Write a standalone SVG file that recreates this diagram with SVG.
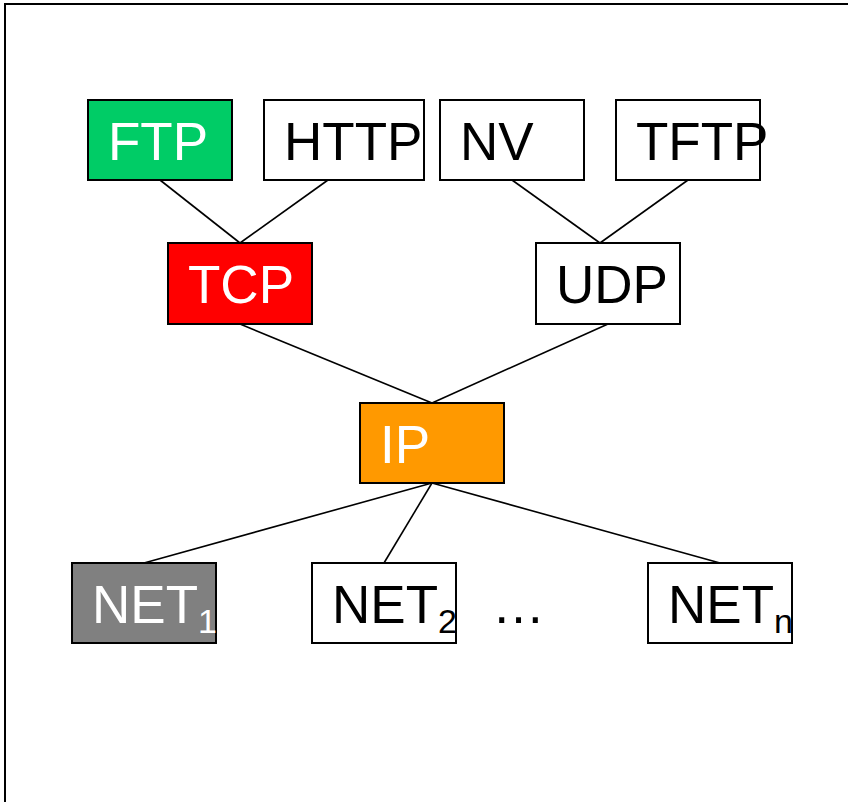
<svg xmlns="http://www.w3.org/2000/svg" width="848" height="802" viewBox="0 0 848 802">
<style>
.box{stroke:#000;stroke-width:2}
.t{font-family:"Liberation Sans",Arial,sans-serif;font-size:53px}
.w{fill:#fff}
.k{fill:#000}
.sub{font-size:34px}
#connectors line{stroke:#000;stroke-width:1.6}
</style>
<rect x="5" y="4" width="860" height="820" fill="#fff" stroke="#000" stroke-width="2"/>
<g id="connectors">
<line x1="160" y1="180" x2="240" y2="243"/>
<line x1="328" y1="180" x2="240" y2="243"/>
<line x1="512" y1="180" x2="600" y2="243"/>
<line x1="688" y1="180" x2="600" y2="243"/>
<line x1="240" y1="324" x2="432" y2="403"/>
<line x1="608" y1="324" x2="432" y2="403"/>
<line x1="432" y1="483" x2="144" y2="563"/>
<line x1="432" y1="483" x2="384" y2="563"/>
<line x1="432" y1="483" x2="720" y2="563"/>
</g>
<g id="ftp"><rect class="box" x="88" y="100" width="144" height="80" fill="#00CC66"/><text class="t w" x="108" y="160">FTP</text></g>
<g id="http"><rect class="box" x="264" y="100" width="160" height="80" fill="#fff"/><text class="t k" x="284" y="160">HTTP</text></g>
<g id="nv"><rect class="box" x="440" y="100" width="144" height="80" fill="#fff"/><text class="t k" x="460" y="160">NV</text></g>
<g id="tftp"><rect class="box" x="616" y="100" width="144" height="80" fill="#fff"/><text class="t k" x="636" y="160">TFTP</text></g>
<g id="tcp"><rect class="box" x="168" y="243" width="144" height="81" fill="#FF0000"/><text class="t w" x="188" y="303">TCP</text></g>
<g id="udp"><rect class="box" x="536" y="243" width="144" height="81" fill="#fff"/><text class="t k" x="556" y="303">UDP</text></g>
<g id="ip"><rect class="box" x="360" y="403" width="144" height="80" fill="#FF9900"/><text class="t w" x="380" y="463">IP</text></g>
<g id="net1"><rect class="box" x="72" y="563" width="144" height="80" fill="#808080"/><text class="t w" x="92" y="623">NET<tspan class="sub" dy="10">1</tspan></text></g>
<g id="net2"><rect class="box" x="312" y="563" width="144" height="80" fill="#fff"/><text class="t k" x="332" y="623">NET<tspan class="sub" dy="10">2</tspan></text></g>
<g id="ellipsis"><text class="t k" x="492" y="623">…</text></g>
<g id="netn"><rect class="box" x="648" y="563" width="144" height="80" fill="#fff"/><text class="t k" x="668" y="623">NET<tspan class="sub" dy="10">n</tspan></text></g>
</svg>
